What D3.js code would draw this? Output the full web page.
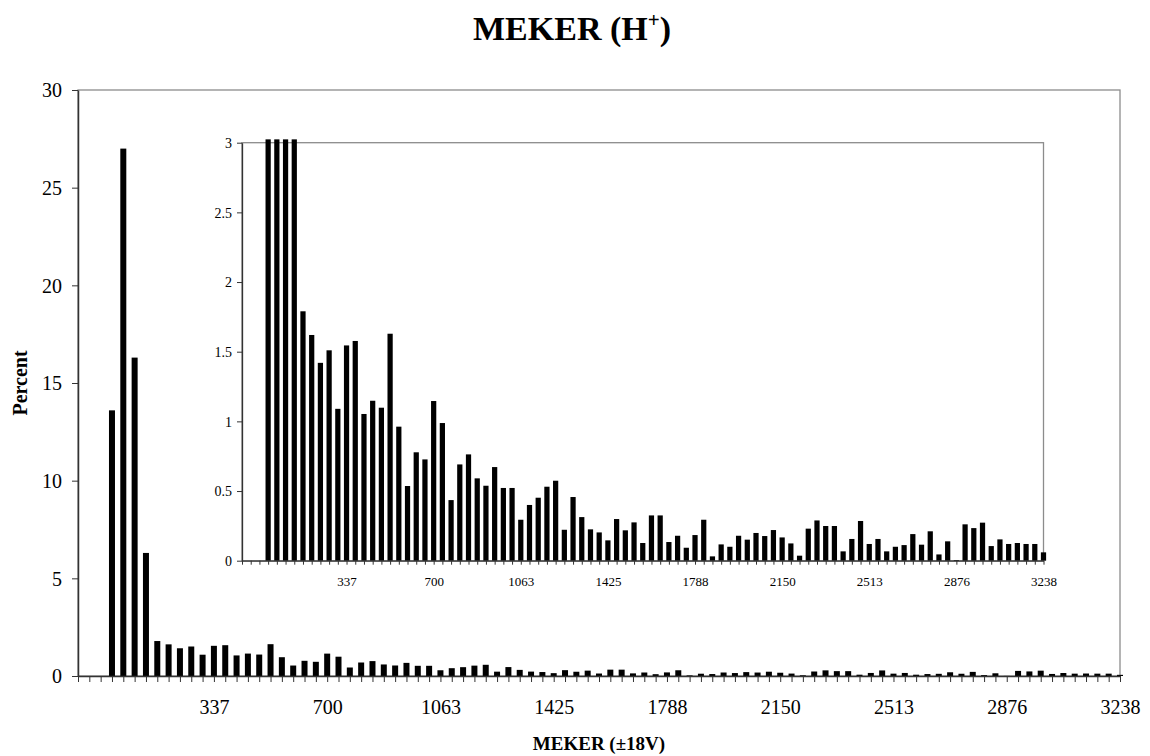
<!DOCTYPE html>
<html>
<head>
<meta charset="utf-8">
<script src="https://cdn.jsdelivr.net/npm/d3@7"></script>
<style>
  html, body { margin: 0; padding: 0; background: #fff; }
  svg { display: block; font-family: "Liberation Serif", "Times New Roman", serif; }
</style>
</head>
<body>
<svg id="chart" width="1150" height="756"></svg>
<script>
// ---- data ----
// 93 voltage bins of ~36.3 V (±18 V); index 0..92
const binIndex = d3.range(93);
const percent = [
  0, 0, 0, 13.6, 27.0, 16.3, 6.3, 1.79, 1.62, 1.42,
  1.51, 1.09, 1.545, 1.577, 1.053, 1.148, 1.098, 1.629, 0.962, 0.536,
  0.778, 0.727, 1.146, 0.988, 0.435, 0.691, 0.763, 0.591, 0.538, 0.672,
  0.522, 0.522, 0.294, 0.40, 0.452, 0.531, 0.574, 0.222, 0.457, 0.313,
  0.225, 0.203, 0.146, 0.299, 0.218, 0.275, 0.127, 0.325, 0.325, 0.134,
  0.179, 0.093, 0.184, 0.294, 0.031, 0.117, 0.10, 0.179, 0.151, 0.199,
  0.177, 0.22, 0.167, 0.124, 0.036, 0.23, 0.289, 0.249, 0.249, 0.067,
  0.156, 0.285, 0.12, 0.156, 0.067, 0.10, 0.112, 0.191, 0.115, 0.211,
  0.045, 0.139, 0.005, 0.261, 0.234, 0.273, 0.105, 0.153, 0.12, 0.127,
  0.12, 0.12, 0.06
];
const tickIndex  = [12, 22, 32, 42, 52, 62, 72, 82, 92];
const tickLabels = ["337", "700", "1063", "1425", "1788", "2150", "2513", "2876", "3238"];
const mainYTicks  = [0, 5, 10, 15, 20, 25, 30];
const insetYTicks = [0, 0.5, 1, 1.5, 2, 2.5, 3];
const titleText = "MEKER (H";
const titleSup = "+";
const xTitle = "MEKER (\u00B118V)";
const yTitle = "Percent";

const labelOf = i => { const k = tickIndex.indexOf(i); return k >= 0 ? tickLabels[k] : ""; };

const svg = d3.select("#chart");
const borderCol = "#8c8c8c";
const axisCol = "#333";

// ---- title ----
const t = svg.append("text").attr("x", 572).attr("y", 40)
  .attr("text-anchor", "middle").attr("font-size", 34).attr("font-weight", "bold");
t.append("tspan").text(titleText);
t.append("tspan").attr("font-size", 21).attr("dy", -13).text(titleSup);
t.append("tspan").attr("dy", 13).text(")");

// ---- main chart ----
const M = { left: 78, right: 1120, top: 90, bottom: 676 };
const xM = d3.scalePoint().domain(binIndex).range([M.left, M.right]);
const yM = d3.scaleLinear().domain([0, 30]).range([M.bottom, M.top]);

svg.append("rect").attr("x", M.left).attr("y", M.top)
  .attr("width", M.right - M.left).attr("height", M.bottom - M.top)
  .attr("fill", "none").attr("stroke", borderCol).attr("stroke-width", 1.3);

const bwM = xM.step() * 0.53;
svg.append("g").selectAll("rect").data(binIndex.filter(i => percent[i] > 0)).join("rect")
  .attr("x", i => xM(i) - bwM / 2).attr("width", bwM)
  .attr("y", i => yM(percent[i])).attr("height", i => yM(0) - yM(percent[i]))
  .attr("fill", "#000");

const gyM = svg.append("g").attr("transform", `translate(${M.left},0)`)
  .call(d3.axisLeft(yM).tickValues(mainYTicks).tickSize(6).tickSizeOuter(0).tickPadding(10).tickFormat(d3.format("d")));
gyM.select(".domain").attr("stroke", axisCol).attr("stroke-width", 1.5);
gyM.selectAll(".tick line").attr("stroke", axisCol);
gyM.selectAll("text").attr("font-size", 20).attr("font-family", "Liberation Serif").attr("fill", "#000").attr("dy", "0.34em");

const gxM = svg.append("g").attr("transform", `translate(0,${M.bottom})`)
  .call(d3.axisBottom(xM).tickSize(6).tickSizeOuter(0).tickFormat(labelOf));
gxM.select(".domain").attr("stroke", axisCol).attr("stroke-width", 1.5);
gxM.selectAll(".tick line").attr("stroke", axisCol);
gxM.selectAll("text").attr("font-size", 20).attr("font-family", "Liberation Serif").attr("fill", "#000")
  .attr("dy", null).attr("y", 38);

svg.append("text").attr("x", (M.left + M.right) / 2).attr("y", 750)
  .attr("text-anchor", "middle").attr("font-size", 19).attr("font-weight", "bold").text(xTitle);
svg.append("text").attr("transform", `translate(27,${(M.top + M.bottom) / 2}) rotate(-90)`)
  .attr("text-anchor", "middle").attr("font-size", 20).attr("font-weight", "bold").text(yTitle);

// ---- inset chart ----
const I = { left: 242, right: 1043.5, top: 142.7, bottom: 560.7 };
const xI = d3.scalePoint().domain(binIndex).range([I.left, I.right]);
const yI = d3.scaleLinear().domain([0, 3]).range([I.bottom, I.top]);

svg.append("rect").attr("x", I.left).attr("y", I.top)
  .attr("width", I.right - I.left).attr("height", I.bottom - I.top)
  .attr("fill", "#fff").attr("stroke", borderCol).attr("stroke-width", 1.3);

const capI = yI.domain()[1] * 1.008;
const bwI = xI.step() * 0.6;
svg.append("g").selectAll("rect").data(binIndex.filter(i => percent[i] > 0)).join("rect")
  .attr("x", i => xI(i) - bwI / 2).attr("width", bwI)
  .attr("y", i => yI(Math.min(percent[i], capI))).attr("height", i => yI(0) - yI(Math.min(percent[i], capI)))
  .attr("fill", "#000");

const gyI = svg.append("g").attr("transform", `translate(${I.left},0)`)
  .call(d3.axisLeft(yI).tickValues(insetYTicks).tickSize(5).tickSizeOuter(0).tickPadding(5).tickFormat(d => String(d)));
gyI.select(".domain").attr("stroke", axisCol).attr("stroke-width", 1.3);
gyI.selectAll(".tick line").attr("stroke", axisCol);
gyI.selectAll("text").attr("font-size", 14).attr("font-family", "Liberation Serif").attr("fill", "#000").attr("dy", "0.34em");

const gxI = svg.append("g").attr("transform", `translate(0,${I.bottom})`)
  .call(d3.axisBottom(xI).tickSize(4).tickSizeOuter(0).tickFormat(labelOf));
gxI.select(".domain").attr("stroke", axisCol).attr("stroke-width", 1.3);
gxI.selectAll(".tick line").attr("stroke", axisCol);
gxI.selectAll("text").attr("font-size", 13).attr("font-family", "Liberation Serif").attr("fill", "#000")
  .attr("dy", null).attr("y", 25);
</script>
</body>
</html>
